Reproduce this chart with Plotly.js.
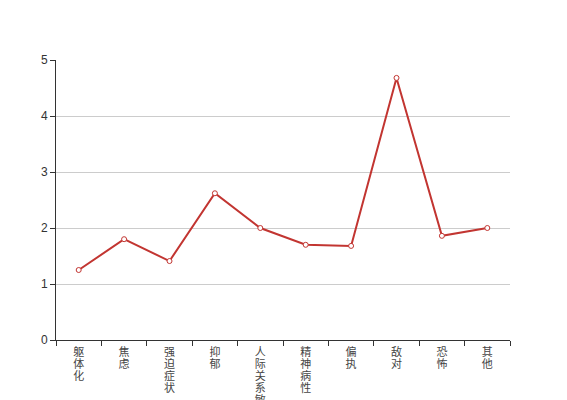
<!DOCTYPE html>
<html><head><meta charset="utf-8">
<script src="https://cdn.plot.ly/plotly-3.0.1.min.js"></script>
<style>html,body{margin:0;padding:0;background:#fff;}</style>
</head><body>
<div id="chart" style="width:567px;height:400px;"></div>
<script>
const categories = ["躯体化","焦虑","强迫症状","抑郁","人际关系敏感","精神病性","偏执","敌对","恐怖","其他"];
const values = [1.25, 1.80, 1.41, 2.62, 2.00, 1.70, 1.68, 4.68, 1.86, 2.00];
const yTicks = [0,1,2,3,4,5];

const tickText = categories.map(c => c.split("").join("<br>"));

const trace = {
  x: categories,
  y: values,
  type: "scatter",
  mode: "lines+markers",
  line: {color: "#c23531", width: 2},
  marker: {size: 5, color: "#ffffff", line: {color: "#c23531", width: 1}},
  hoverinfo: "x+y"
};

const layout = {
  width: 567, height: 400,
  margin: {l: 56, r: 57, t: 60, b: 60},
  paper_bgcolor: "#fff", plot_bgcolor: "#fff",
  showlegend: false,
  font: {family: "Liberation Sans, Arial, 'Noto Sans CJK SC', sans-serif", size: 12, color: "#333"},
  xaxis: {
    type: "category",
    range: [-0.5, categories.length - 0.5],
    tickmode: "array",
    tickvals: categories,
    ticktext: tickText,
    tickson: "boundaries",
    ticks: "outside", ticklen: 5, tickcolor: "#333",
    showline: true, linecolor: "#333", linewidth: 1,
    showgrid: false, zeroline: false,
    tickangle: 0,
    tickfont: {size: 11, color: "#444", family: "'Noto Sans CJK SC', sans-serif"},
    fixedrange: true
  },
  yaxis: {
    range: [0, 5],
    tickmode: "array", tickvals: yTicks,
    ticks: "outside", ticklen: 5, tickcolor: "#333",
    showline: true, linecolor: "#333", linewidth: 1,
    showgrid: true, gridcolor: "#ccc", gridwidth: 1,
    zeroline: false,
    tickfont: {size: 12, color: "#333"},
    fixedrange: true
  }
};

Plotly.newPlot("chart", [trace], layout, {displayModeBar: false, staticPlot: true}).then(function (gd) {
  // stack the category labels with a tight line step, as in the reference
  gd.querySelectorAll(".xtick text").forEach(function (t) {
    const lines = t.querySelectorAll("tspan.line");
    lines.forEach(function (ln, i) {
      ln.setAttribute("dy", (2 + i * 12) + "px");
    });
  });
});
</script>
</body></html>
